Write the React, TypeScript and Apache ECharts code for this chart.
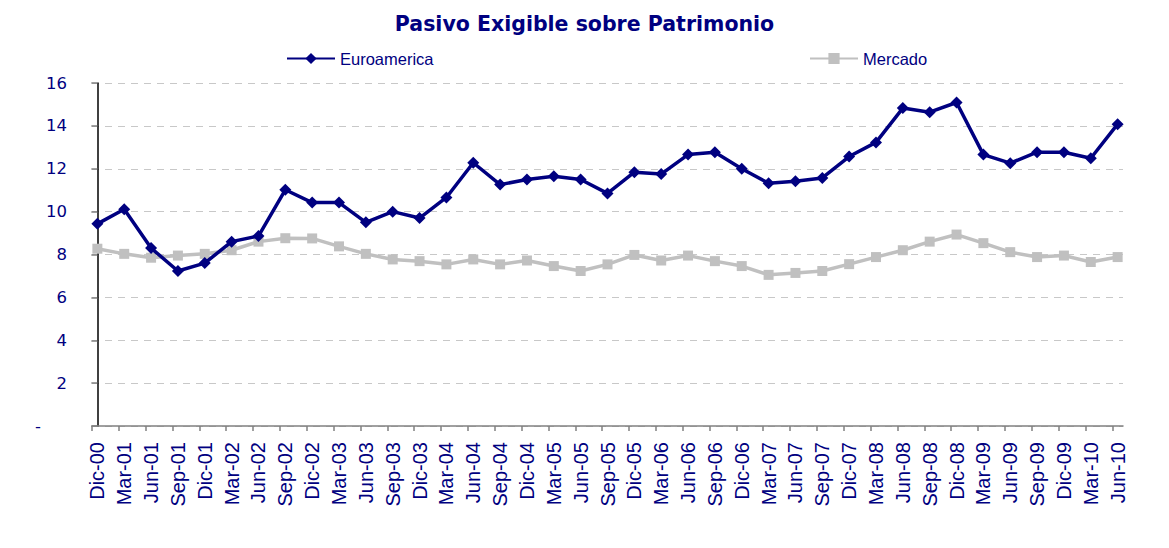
import React, { useEffect, useRef } from "react";
import * as echarts from "echarts";

const categories = [
  "Dic-00", "Mar-01", "Jun-01", "Sep-01", "Dic-01", "Mar-02", "Jun-02", "Sep-02",
  "Dic-02", "Mar-03", "Jun-03", "Sep-03", "Dic-03", "Mar-04", "Jun-04", "Sep-04",
  "Dic-04", "Mar-05", "Jun-05", "Sep-05", "Dic-05", "Mar-06", "Jun-06", "Sep-06",
  "Dic-06", "Mar-07", "Jun-07", "Sep-07", "Dic-07", "Mar-08", "Jun-08", "Sep-08",
  "Dic-08", "Mar-09", "Jun-09", "Sep-09", "Dic-09", "Mar-10", "Jun-10",
];

const euroamerica = [
  9.43, 10.11, 8.3, 7.23, 7.6, 8.6, 8.86, 11.02,
  10.42, 10.42, 9.5, 10.0, 9.7, 10.66, 12.28, 11.26,
  11.5, 11.65, 11.5, 10.85, 11.84, 11.75, 12.66, 12.77,
  12.0, 11.32, 11.42, 11.57, 12.57, 13.23, 14.83, 14.64,
  15.09, 12.66, 12.26, 12.77, 12.77, 12.49, 14.08,
];

const mercado = [
  8.27, 8.03, 7.85, 7.95, 8.03, 8.2, 8.6, 8.76,
  8.75, 8.38, 8.03, 7.77, 7.69, 7.54, 7.77, 7.54,
  7.72, 7.46, 7.23, 7.54, 7.98, 7.72, 7.95, 7.69,
  7.46, 7.05, 7.14, 7.23, 7.55, 7.88, 8.2, 8.6,
  8.93, 8.53, 8.11, 7.88, 7.95, 7.65, 7.88,
];

const yTicks = [0, 2, 4, 6, 8, 10, 12, 14, 16];

const NAVY = "#000080";
const GREY = "#c0c0c0";

export default function App() {
  const ref = useRef<HTMLDivElement>(null);

  useEffect(() => {
    if (!ref.current) return;
    const chart = echarts.init(ref.current, null, { renderer: "svg" });
    const idx = categories.map((_, i) => i);
    const tickPos = categories.map((_, i) => i - 0.2);
    const legendText = { fontFamily: "Liberation Sans, Arial", fontSize: 16.5, color: NAVY };
    chart.setOption({
      animation: false,
      backgroundColor: "#ffffff",
      title: {
        text: "Pasivo Exigible sobre Patrimonio",
        left: "center",
        top: 8,
        textStyle: {
          fontFamily: "DejaVu Sans",
          fontWeight: "bold",
          fontSize: 20.5,
          color: NAVY,
        },
      },
      legend: [
        {
          data: ["Euroamerica"],
          left: 281,
          top: 45,
          itemWidth: 48,
          itemHeight: 14,
          itemGap: 0,
          textStyle: legendText,
        },
        {
          data: ["Mercado"],
          left: 804,
          top: 45,
          itemWidth: 48,
          itemHeight: 14,
          itemGap: 0,
          textStyle: legendText,
        },
      ],
      grid: { left: 92, right: 46, top: 83, bottom: 122, containLabel: false },
      xAxis: {
        type: "value",
        min: -0.2,
        max: 38.2,
        axisLine: { show: true, lineStyle: { color: "#808080", width: 1.5 } },
        axisTick: {
          show: true,
          length: 5,
          customValues: tickPos,
          lineStyle: { color: "#808080", width: 1.5 },
        },
        splitLine: { show: false },
        axisLabel: {
          customValues: idx,
          rotate: 90,
          margin: 16,
          fontFamily: "Liberation Sans, Arial",
          fontSize: 20,
          color: NAVY,
          formatter: (v: number) => categories[Math.round(v)] ?? "",
        },
      },
      yAxis: {
        type: "value",
        min: 0,
        max: 16,
        interval: 2,
        axisLine: { show: true, lineStyle: { color: "#000000", width: 1.5 } },
        axisTick: { show: true, length: 6, lineStyle: { color: "#808080", width: 1.5 } },
        splitLine: {
          show: true,
          lineStyle: { color: "#c8c8c8", type: [7, 6], width: 1 },
        },
        axisLabel: {
          margin: 25,
          fontFamily: "DejaVu Sans",
          fontSize: 16.5,
          color: NAVY,
          formatter: (v: number) =>
            yTicks.includes(v) ? (v === 0 ? "{d|-}" : String(v)) : "",
          rich: {
            d: {
              fontFamily: "DejaVu Sans",
              fontSize: 16.5,
              color: NAVY,
              padding: [0, 26, 0, 0],
            },
          },
        },
      },
      series: [
        {
          name: "Mercado",
          type: "line",
          data: mercado.map((v, i) => [i, v]),
          symbol: "rect",
          symbolSize: 10,
          lineStyle: { color: GREY, width: 3.5 },
          itemStyle: { color: GREY },
          z: 2,
        },
        {
          name: "Euroamerica",
          type: "line",
          data: euroamerica.map((v, i) => [i, v]),
          symbol: "diamond",
          symbolSize: 12,
          lineStyle: { color: NAVY, width: 3.5 },
          itemStyle: { color: NAVY },
          z: 3,
        },
      ],
    });
    return () => chart.dispose();
  }, []);

  return <div ref={ref} style={{ width: 1169, height: 548, position: "absolute", left: 0, top: 0 }} />;
}
